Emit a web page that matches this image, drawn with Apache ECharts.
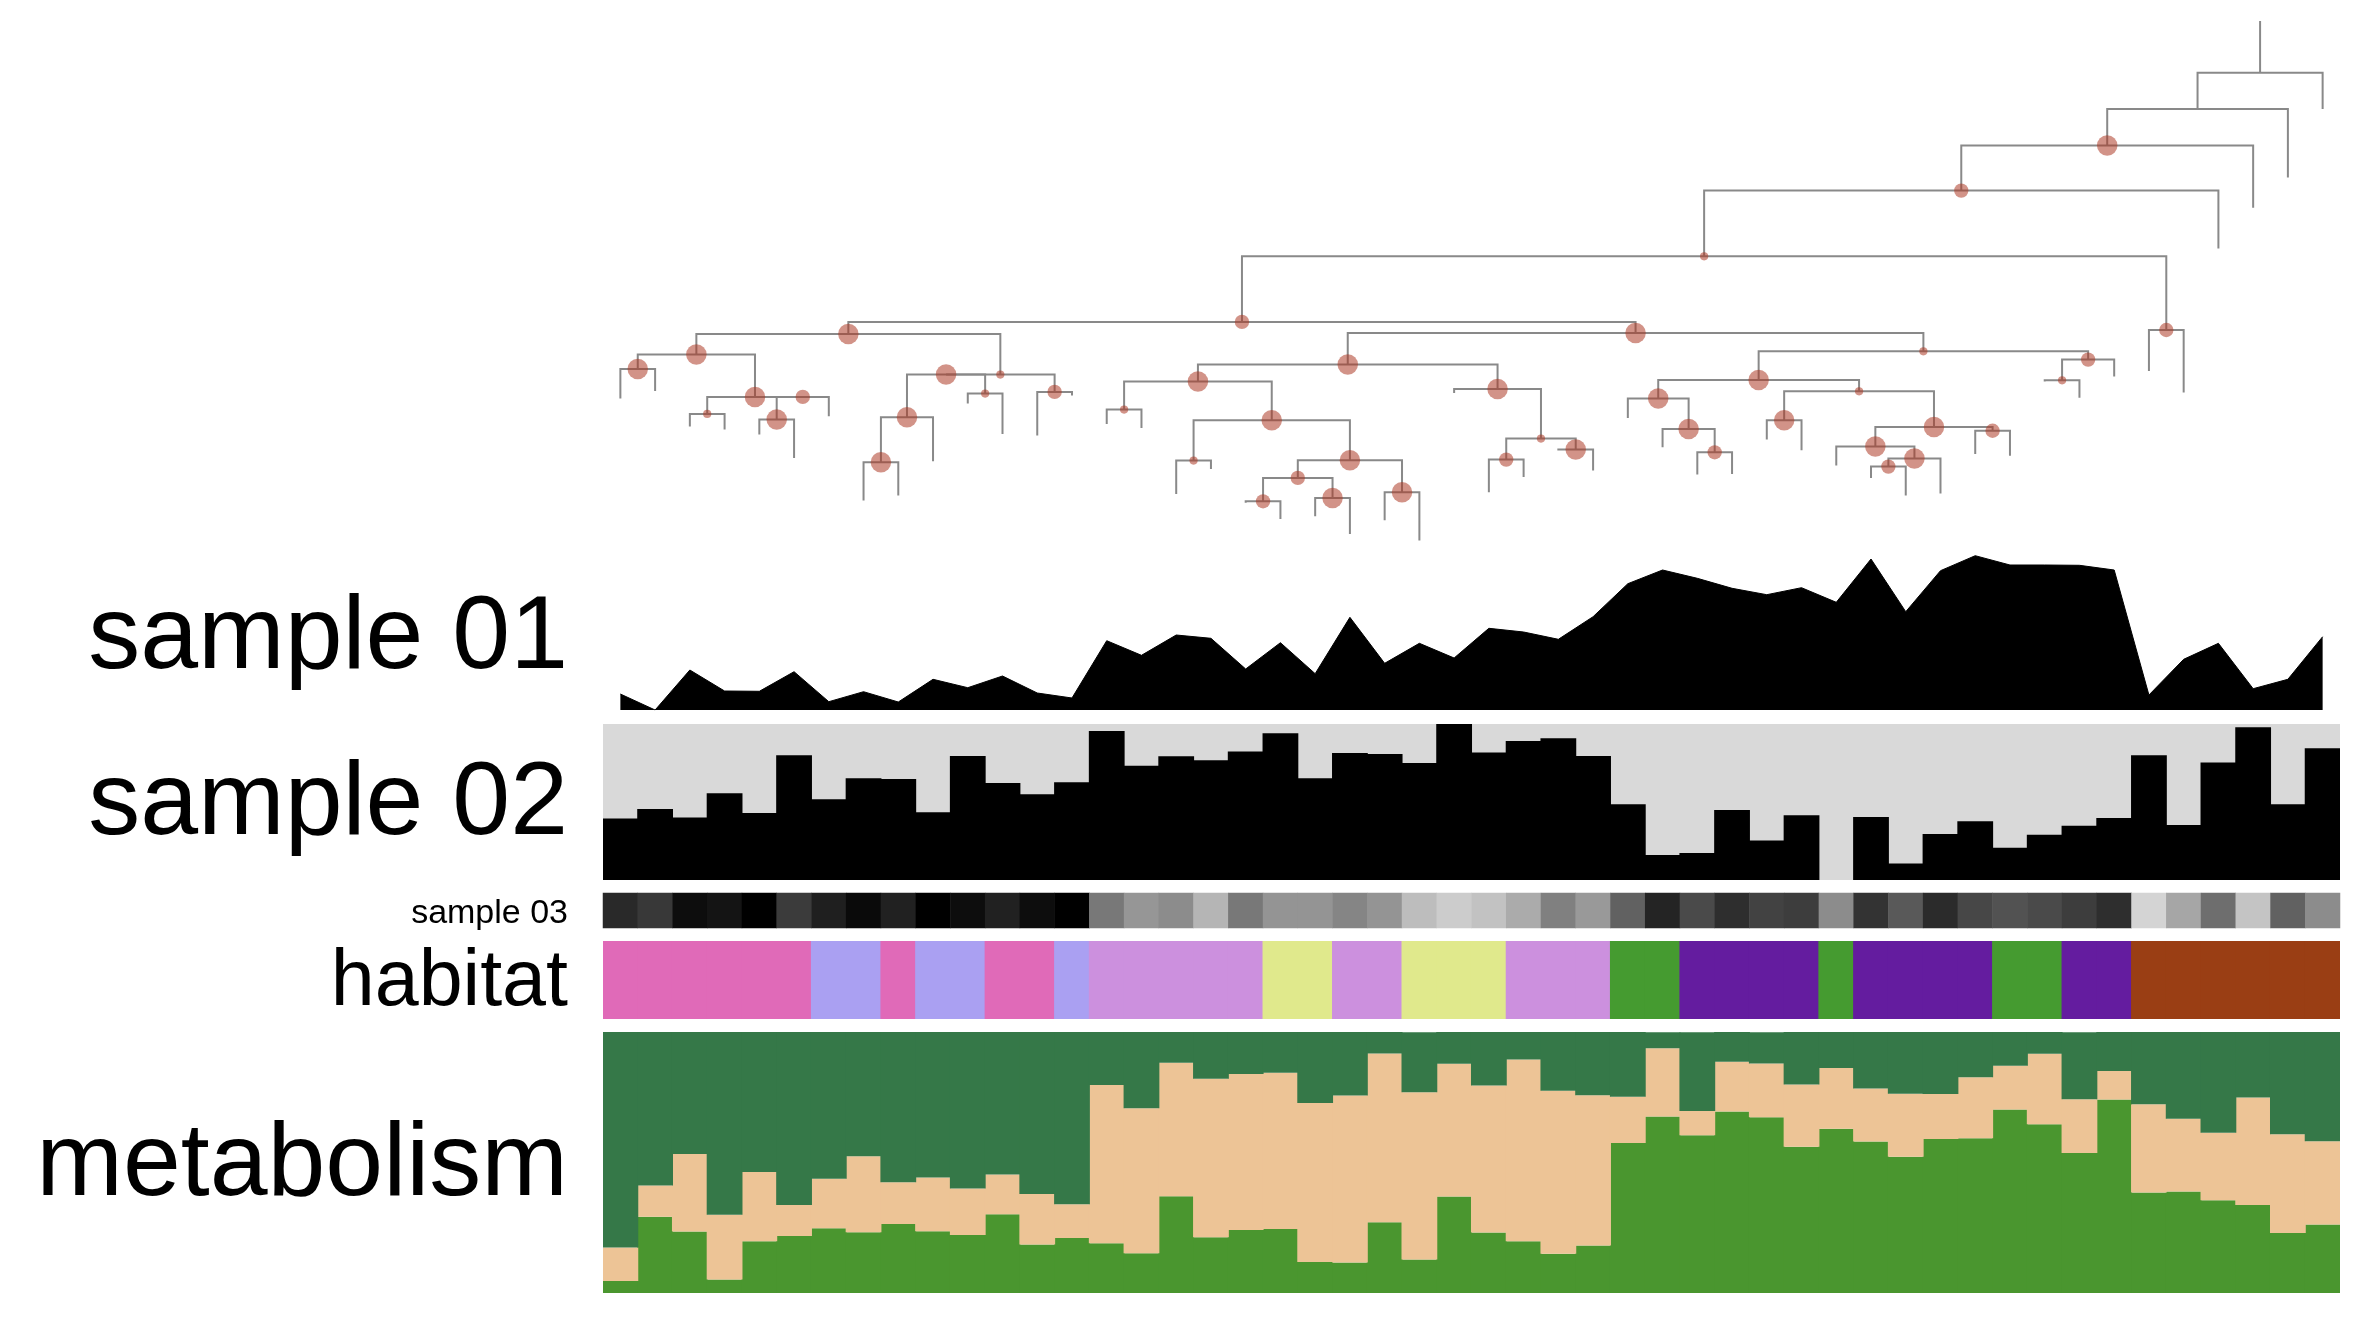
<!DOCTYPE html>
<html>
<head>
<meta charset="utf-8">
<script src="https://cdn.jsdelivr.net/npm/echarts@6/dist/echarts.min.js"></script>
<style>
html,body{margin:0;padding:0;background:#ffffff;}
#chart{width:2368px;height:1324px;}
</style>
</head>
<body>
<div id="chart"></div>
<script>
// ---------------- DATA ----------------
const columns = Array.from({length: 50}, (_, i) => 't' + String(i).padStart(2, '0'));

const trackLabels = ['sample 01', 'sample 02', 'sample 03', 'habitat', 'metabolism'];

// sample 01 : area profile
const sample01 = [16, 0, 40, 19, 18.7, 38.3, 8.3, 18.3, 8, 30.7,
  22.3, 34, 17, 12, 69.3, 54.7, 75, 71.7, 41, 67.3,
  36.3, 92.7, 46.7, 66.7, 52, 81.7, 78, 70.7, 93.3, 126.3,
  140, 131.7, 121.7, 115.3, 122.3, 107.7, 151, 98.3, 139.3, 154.3,
  145, 145, 144.7, 140, 15, 50.7, 66.7, 21.3, 30.7, 73.3];

// sample 02 : percentage bars
const sample02 = [39.5, 45.5, 40, 55.6, 43, 80, 51.7, 65.2, 64.7, 43.4,
  79.5, 62.2, 54.9, 62.6, 95.5, 73.3, 79.3, 76.7, 82.3, 94,
  65.2, 81.4, 80.8, 75, 100, 81.8, 89.1, 90.8, 79.5, 48.5,
  16, 17.3, 44.9, 25.4, 41.5, 0, 40.4, 10.5, 29.5, 37.6,
  20.7, 29, 34.8, 39.7, 80, 35.3, 75.4, 97.9, 48.5, 84.4];

// sample 03 : intensity (0 = black, 100 = white)
const sample03 = [16, 22, 5, 8, 0, 23, 12, 4, 13, 0,
  5, 13, 5, 0, 47, 59, 55, 71, 47, 58,
  58, 52, 58, 74, 80, 76, 67, 50, 60, 38,
  14, 29, 18, 26, 24, 55, 20, 35, 17, 28,
  32, 29, 24, 18, 83, 65, 43, 77, 38, 55];

// habitat categories
const habitat = ['A','A','A','A','A','A','B','B','A','B',
  'B','A','A','B','C','C','C','C','C','D',
  'D','C','C','D','D','D','C','C','C','E',
  'E','F','F','F','F','E','F','F','F','F',
  'E','E','F','F','G','G','G','G','G','G'];

// metabolism composition (%)
const metabBottom = [4.6, 29.2, 23.6, 5.2, 19.8, 21.8, 24.8, 23.3, 26.4, 23.7,
  22.2, 30.2, 18.6, 21.1, 19.1, 15.2, 37.1, 21.4, 24.1, 24.5,
  11.9, 11.7, 27.1, 12.8, 37.0, 23.2, 19.8, 15.0, 18.2, 57.5,
  67.6, 60.4, 69.5, 67.3, 56.0, 62.9, 58.0, 52.2, 59.0, 59.3,
  70.3, 64.7, 53.6, 74.1, 38.5, 38.9, 35.5, 33.7, 23.0, 26.2];
const metabMiddle = [12.8, 12.0, 29.7, 24.8, 26.6, 11.9, 19.0, 29.1, 16.0, 20.6,
  17.8, 15.2, 19.3, 12.9, 60.6, 55.6, 51.1, 60.7, 59.8, 59.9,
  60.9, 64.0, 64.7, 64.1, 50.8, 56.3, 69.7, 62.5, 57.6, 17.7,
  26.2, 9.3, 19.1, 20.6, 23.9, 23.3, 20.4, 24.1, 17.2, 23.4,
  16.8, 27.0, 20.6, 11.0, 33.8, 27.9, 25.9, 41.2, 37.8, 31.9];
const metabTop = [82.6, 58.8, 46.7, 70.0, 53.6, 66.3, 56.2, 47.6, 57.6, 55.7,
  60.0, 54.6, 62.1, 66.0, 20.3, 29.2, 11.8, 17.9, 16.1, 15.6,
  27.2, 24.3, 8.2, 23.0, 12.2, 20.5, 10.5, 22.5, 24.2, 24.8,
  6.1, 30.2, 11.4, 12.0, 20.1, 13.8, 21.6, 23.7, 23.8, 17.3,
  12.9, 8.3, 25.7, 14.9, 27.7, 33.2, 38.7, 25.1, 39.2, 41.9];

// tree: [node, parent, branch length, support]
const treeEdges = [
  ['root', null, 0.518, null],
  ['BA', 'root', 0.361, null], ['t49', 'root', 0.361],
  ['BB', 'BA', 0.367, 100], ['t48', 'BA', 0.686],
  ['BC', 'BB', 0.45, 70], ['t47', 'BB', 0.622],
  ['BD', 'BC', 0.657, 40], ['t46', 'BC', 0.58],
  ['P', 'BD', 0.656, 70], ['BE', 'BD', 0.737, 70],
  ['t44', 'BE', 0.41], ['t45', 'BE', 0.625],
  ['A', 'P', 0.12, 100], ['Q', 'P', 0.11, 100],
  ['B', 'A', 0.207, 100], ['I', 'A', 0.407, 40],
  ['C', 'B', 0.143, 100], ['D', 'B', 0.423, 100],
  ['t00', 'C', 0.297], ['t01', 'C', 0.22],
  ['E', 'D', 0.17, 40], ['G', 'D', 0, 70],
  ['t02', 'E', 0.127], ['t03', 'E', 0.157],
  ['H', 'G', 0.227, 100], ['t06', 'G', 0.194],
  ['t04', 'H', 0.15], ['t05', 'H', 0.383],
  ['J', 'I', 0, 100], ['N', 'I', 0.173, 70],
  ['K', 'J', 0.427, 100], ['L', 'J', 0.19, 40],
  ['M', 'K', 0.45, 100], ['t09', 'K', 0.44],
  ['t07', 'M', 0.383], ['t08', 'M', 0.333],
  ['t10', 'L', 0.1], ['t11', 'L', 0.403],
  ['t12', 'N', 0.437], ['t13', 'N', 0.037],
  ['R', 'Q', 0.317, 100], ['AF', 'Q', 0.184, 40],
  ['S', 'R', 0.17, 100], ['AB', 'R', 0.243, 100],
  ['T', 'S', 0.28, 40], ['U', 'S', 0.387, 100],
  ['t14', 'T', 0.143], ['t15', 'T', 0.183],
  ['V', 'U', 0.403, 40], ['W', 'U', 0.4, 100],
  ['t16', 'V', 0.333], ['t17', 'V', 0.083],
  ['X', 'W', 0.176, 70], ['AA', 'W', 0.32, 100],
  ['Y', 'X', 0.234, 70], ['Z', 'X', 0.2, 100],
  ['t18', 'Y', 0.015], ['t19', 'Y', 0.176],
  ['t20', 'Z', 0.184], ['t21', 'Z', 0.36],
  ['t22', 'AA', 0.28], ['t23', 'AA', 0.483],
  ['t24', 'AB', 0.04], ['AC', 'AB', 0.497, 40],
  ['AD', 'AC', 0.21, 70], ['AE', 'AC', 0.11, 100],
  ['t25', 'AD', 0.327], ['t26', 'AD', 0.173],
  ['t27', 'AE', 0.01], ['t28', 'AE', 0.21],
  ['AG', 'AF', 0.286, 100], ['BF', 'AF', 0.083, 70],
  ['AH', 'AG', 0.187, 100], ['AK', 'AG', 0.114, 40],
  ['t29', 'AH', 0.193], ['AI', 'AH', 0.303, 100],
  ['t30', 'AI', 0.184], ['AJ', 'AI', 0.234, 70],
  ['t31', 'AJ', 0.223], ['t32', 'AJ', 0.216],
  ['AL', 'AK', 0.29, 100], ['AM', 'AK', 0.356, 100],
  ['t33', 'AL', 0.193], ['t34', 'AL', 0.3],
  ['AN', 'AM', 0.197, 100], ['AQ', 'AM', 0.038, 70],
  ['t35', 'AN', 0.19], ['AO', 'AN', 0.12, 100],
  ['AP', 'AO', 0.08, 70], ['t38', 'AO', 0.35],
  ['t36', 'AP', 0.113], ['t37', 'AP', 0.29],
  ['t39', 'AQ', 0.232], ['t40', 'AQ', 0.25],
  ['BG', 'BF', 0.207, 40], ['t43', 'BF', 0.168],
  ['t41', 'BG', 0.013], ['t42', 'BG', 0.175]
];

// ---------------- STYLES ----------------
const habitatColors = {A: '#e06ab8', B: '#aaa0f2', C: '#cc90de', D: '#e0e98c', E: '#459b30', F: '#641c9f', G: '#9a3e14'};
const metabColors = ['#4a962f', '#edc496', '#357848'];
const FONT = '"Liberation Sans", Arial, Helvetica, sans-serif';

// ---------------- TREE LAYOUT ----------------
const nodes = {};
treeEdges.forEach(([id, parent, len, sup]) => { nodes[id] = {id, parent, len, sup, children: []}; });
treeEdges.forEach(([id, parent]) => { if (parent) nodes[parent].children.push(id); });
const rootId = treeEdges.find(e => e[1] === null)[0];
function layout(id, parentDepth) {
  const n = nodes[id];
  n.depth = parentDepth + n.len;
  if (n.children.length === 0) {
    n.x = columns.indexOf(id);
  } else {
    n.children.forEach(c => layout(c, n.depth));
    n.x = n.children.reduce((s, c) => s + nodes[c].x, 0) / n.children.length;
  }
}
layout(rootId, 0);
const treePaths = [];
const rootNode = nodes[rootId];
treePaths.push([[rootNode.x, 0], [rootNode.x, rootNode.depth]]);
Object.values(nodes).forEach(n => {
  if (!n.children.length) return;
  const kids = n.children.map(c => nodes[c]).sort((a, b) => a.x - b.x);
  const first = kids[0], last = kids[kids.length - 1];
  treePaths.push([[first.x, first.depth], [first.x, n.depth], [last.x, n.depth], [last.x, last.depth]]);
  kids.slice(1, -1).forEach(k => treePaths.push([[k.x, n.depth], [k.x, k.depth]]));
});
const supportPoints = Object.values(nodes).filter(n => n.sup).map(n => [n.x, n.depth, n.sup]);

// ---------------- CHART ----------------
const L = 603, W = 1737;
const grids = [
  {left: L, width: W, top: 21, height: 530},
  {left: L, width: W, top: 550, height: 160},
  {left: L, width: W, top: 724, height: 156, show: true, backgroundColor: '#d9d9d9', borderWidth: 0},
  {left: L, width: W, top: 893, height: 35},
  {left: L, width: W, top: 941, height: 78},
  {left: L, width: W, top: 1032, height: 261}
].map(g => Object.assign({containLabel: false, outerBoundsMode: 'none'}, g));

const catAxis = i => ({type: 'category', gridIndex: i, data: columns, boundaryGap: true, show: false});
const xAxes = [{type: 'value', gridIndex: 0, min: -0.5, max: 49.5, show: false},
  catAxis(1), catAxis(2), catAxis(3), catAxis(4), catAxis(5)];
const yAxes = [
  {type: 'value', gridIndex: 0, min: 0, max: 5.3, inverse: true, show: false},
  {type: 'value', gridIndex: 1, min: 0, max: 160, show: false},
  {type: 'value', gridIndex: 2, min: 0, max: 100, show: false},
  {type: 'category', gridIndex: 3, data: ['sample 03'], show: false},
  {type: 'value', gridIndex: 4, min: 0, max: 1, show: false},
  {type: 'value', gridIndex: 5, min: 0, max: 100, show: false}
];

const labelPos = [
  {y: 639, size: 104}, {y: 805, size: 104}, {y: 914, size: 34}, {y: 983, size: 79}, {y: 1166, size: 104}
];

const BAR_W = '103%';

const option = {
  animation: false,
  backgroundColor: '#ffffff',
  grid: grids,
  xAxis: xAxes,
  yAxis: yAxes,
  visualMap: [{
    type: 'continuous', show: false, seriesIndex: 4, dimension: 2,
    min: 0, max: 100, inRange: {color: ['#000000', '#ffffff']}
  }],
  graphic: trackLabels.map((t, i) => ({
    type: 'text', x: 568, y: labelPos[i].y, silent: true,
    style: {text: t, font: labelPos[i].size + 'px ' + FONT, fill: '#000000',
      align: 'right', verticalAlign: 'middle', textAlign: 'right', textVerticalAlign: 'middle'}
  })),
  series: [
    {
      type: 'custom', xAxisIndex: 0, yAxisIndex: 0, silent: true, z: 2,
      data: treePaths.map((p, i) => [p[0][0], p[0][1], i]),
      renderItem: function (params, api) {
        const path = treePaths[api.value(2)];
        return {
          type: 'polyline',
          shape: {points: path.map(pt => api.coord(pt))},
          style: {stroke: '#898989', lineWidth: 2, fill: null, lineJoin: 'miter', lineCap: 'butt'}
        };
      }
    },
    {
      type: 'scatter', xAxisIndex: 0, yAxisIndex: 0, silent: true, z: 3,
      data: supportPoints,
      symbolSize: d => d[2] * 0.205,
      itemStyle: {color: 'rgba(171,56,36,0.68)'}
    },
    {
      type: 'line', xAxisIndex: 1, yAxisIndex: 1, data: sample01, symbol: 'none', silent: true,
      lineStyle: {color: '#000000', width: 1},
      areaStyle: {color: '#000000', opacity: 1}
    },
    {
      type: 'bar', xAxisIndex: 2, yAxisIndex: 2, data: sample02, barWidth: BAR_W, silent: true,
      itemStyle: {color: '#000000'}
    },
    {
      type: 'heatmap', xAxisIndex: 3, yAxisIndex: 3, silent: true,
      data: sample03.map((v, i) => [i, 0, v])
    },
    {
      type: 'bar', xAxisIndex: 4, yAxisIndex: 4, barWidth: BAR_W, silent: true,
      data: habitat.map(h => ({value: 1, itemStyle: {color: habitatColors[h]}}))
    },
    {
      type: 'bar', xAxisIndex: 5, yAxisIndex: 5, stack: 'm', barWidth: BAR_W, silent: true,
      data: metabBottom, itemStyle: {color: metabColors[0]}
    },
    {
      type: 'bar', xAxisIndex: 5, yAxisIndex: 5, stack: 'm', barWidth: BAR_W, silent: true,
      data: metabMiddle, itemStyle: {color: metabColors[1]}
    },
    {
      type: 'bar', xAxisIndex: 5, yAxisIndex: 5, stack: 'm', barWidth: BAR_W, silent: true,
      data: metabTop, itemStyle: {color: metabColors[2]}
    }
  ]
};

const chart = echarts.init(document.getElementById('chart'), null, {renderer: 'canvas'});
chart.setOption(option);
</script>
</body>
</html>
